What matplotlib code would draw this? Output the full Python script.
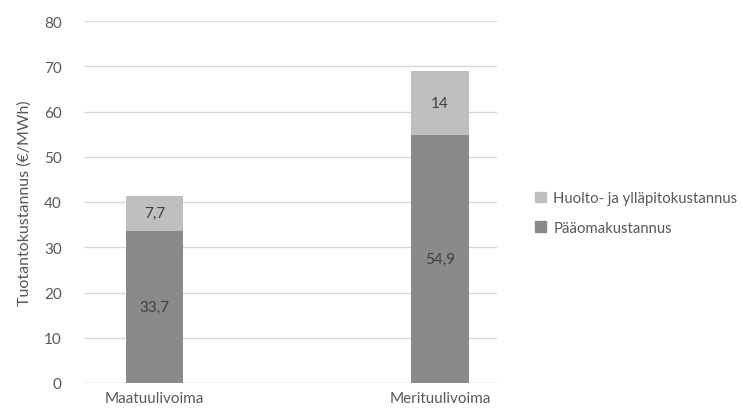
import numpy as np
import matplotlib.pyplot as plt
from matplotlib.patches import Patch

categories = ["Maatuulivoima", "Merituulivoima"]
paaoma = [33.7, 54.9]
huolto = [7.7, 14]
series_names = ["Pääomakustannus", "Huolto- ja ylläpitokustannus"]
y_ticks = [0, 10, 20, 30, 40, 50, 60, 70, 80]

dark = "#8a8a8a"
light = "#bfbfbf"
text_col = "#595959"

plt.rcParams["font.family"] = ["Lato", "DejaVu Sans"]

W, H = 743, 410
fig = plt.figure(figsize=(W / 100, H / 100), dpi=100)
ax = fig.add_axes([84 / W, 1 - 384 / H, (497 - 84) / W, (384 - 22) / H])

x = np.arange(len(categories))
width = 0.2
ax.bar(x, paaoma, width, color=dark, zorder=3)
ax.bar(x, huolto, width, bottom=paaoma, color=light, zorder=3)

# value labels in the middle of each segment, decimal comma
for i in range(len(categories)):
    ax.text(x[i], paaoma[i] / 2, f"{paaoma[i]:g}".replace(".", ","),
            ha="center", va="center", fontsize=11, color="#404040", zorder=4)
    ax.text(x[i], paaoma[i] + huolto[i] / 2, f"{huolto[i]:g}".replace(".", ","),
            ha="center", va="center", fontsize=11, color="#404040", zorder=4)

ax.set_xlim(-70.5 / 285.5, 1 + 57 / 285.5)
ax.set_ylim(0, 80)
ax.set_yticks(y_ticks)
ax.set_xticks(x)
ax.set_xticklabels(categories)
ax.yaxis.grid(True, color="#d9d9d9", linewidth=1, zorder=0)
ax.tick_params(length=0, labelsize=11, colors=text_col)
ax.tick_params(axis="y", pad=16)
ax.tick_params(axis="x", pad=6)
for s in ax.spines.values():
    s.set_visible(False)
ax.axhline(0, color="#d9d9d9", linewidth=1, zorder=2)

ax.set_ylabel("Tuotantokustannus (€/MWh)", fontsize=11.5, color=text_col, labelpad=9)

handles = [Patch(color=light), Patch(color=dark)]
fig.legend(handles, [series_names[1], series_names[0]], loc="center left",
           bbox_to_anchor=(522 / W, 1 - 214 / H), frameon=False, fontsize=10.7,
           handlelength=0.7, handleheight=0.7, handletextpad=0.5, labelspacing=1.05,
           labelcolor=text_col)

fig.savefig("out.png", dpi=100)
